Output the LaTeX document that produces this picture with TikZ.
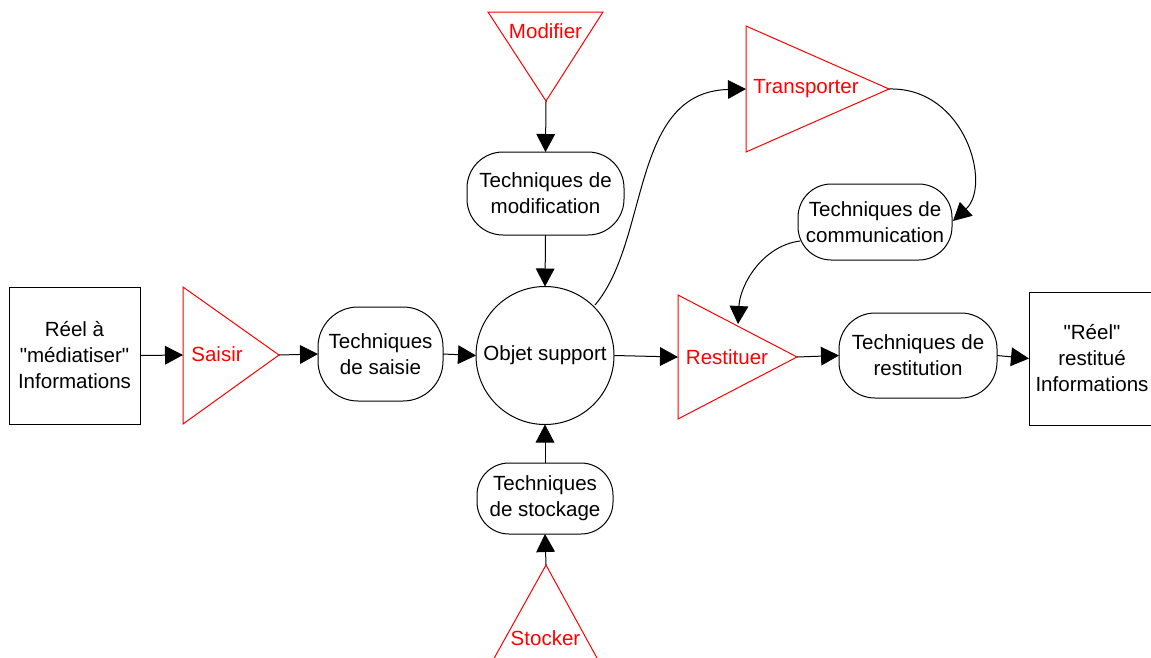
\documentclass[tikz,border=0pt]{standalone}
\usepackage{fontspec}
\newfontfamily\arialf{Liberation Sans}
\usetikzlibrary{arrows.meta}
\begin{document}
\begin{tikzpicture}[x=0.75pt,y=-0.75pt,
  every node/.style={font=\arialf\fontsize{15.4pt}{19.5pt}\selectfont, align=center, inner sep=0pt, outer sep=0pt},
  box/.style={draw, line width=0.75pt, rectangle},
  tech/.style={draw, line width=0.75pt, rounded corners=27pt},
  circ/.style={draw, circle, line width=0.75pt},
  tri/.style={draw=red, line width=0.75pt, line join=miter},
  lbl/.style={text=red},
  conn/.style={line width=0.75pt, -{Triangle[length=13.5pt,width=14pt]}}
]
\useasboundingbox (0,0) rectangle (1151,657);

% boxes
\node[box, minimum width=98.25pt, minimum height=102.75pt] (reel) at (74.5,355.5) {Réel à\\"médiatiser"\\Informations};
\node[box, minimum width=94.5pt, minimum height=99.75pt] (restitue) at (1092,358.5) {"Réel"\\restitué\\Informations};

% technique boxes
\node[tech, minimum width=93.75pt, minimum height=70.5pt, rounded corners=30pt] (saisie) at (380.5,354) {Techniques\\de saisie};
\node[tech, minimum width=117.75pt, minimum height=62.25pt] (modif) at (545.5,193.5) {Techniques de\\modification};
\node[tech, minimum width=102pt, minimum height=53.25pt, rounded corners=24pt] (stock) at (545,498.5) {Techniques\\de stockage};
\node[tech, minimum width=118.5pt, minimum height=63.75pt] (restit) at (918,355.5) {Techniques de\\restitution};
\node[tech, minimum width=115.5pt, minimum height=57pt, rounded corners=25pt] (comm) at (875,222) {Techniques de\\communication};

% central circle
\node[circ, minimum size=103.5pt] (obj) at (545,355.5) {Objet support};

% triangles (red)
\coordinate (saisirL) at (183,355);
\coordinate (saisirT) at (279,355);
\draw[tri] (183,287) -- (279,355) -- (183,424) -- cycle;
\node[lbl] (saisir) at (217,354) {Saisir};

\coordinate (restL) at (678,357);
\coordinate (restT) at (797,357);
\coordinate (restTop) at (738,324);
\draw[tri] (678,295) -- (797,357) -- (678,419) -- cycle;
\node[lbl] (restituer) at (727,357) {Restituer};

\coordinate (transL) at (746,89);
\coordinate (transT) at (889,89);
\draw[tri] (746,26) -- (889,89) -- (746,152) -- cycle;
\node[lbl] (transporter) at (806,89) {Transporter};

\coordinate (modB) at (546,101);
\draw[tri] (488,12) -- (603,12) -- (546,101) -- cycle;
\node[lbl] (modifier) at (545.5,31) {Modifier};

\coordinate (stockA) at (546,565);
\draw[tri] (482,680) -- (546,565) -- (609,680);
\node[lbl] (stocker) at (545.5,638) {Stocker};

% connectors
\coordinate (objNE) at (595,305);
\coordinate (commR) at (953,221);
\coordinate (commL) at (800,241);

\draw[conn] (reel.east) -- (saisirL);
\draw[conn] (saisirT) -- (saisie.west);
\draw[conn] (saisie.east) -- (obj.west);
\draw[conn] (obj.east) -- (restL);
\draw[conn] (restT) -- (restit.west);
\draw[conn] (restit.east) -- (restitue.west);
\draw[conn] (modB) -- (modif.north);
\draw[conn] (modif.south) -- (obj.north);
\draw[conn] (stock.north) -- (obj.south);
\draw[conn] (stockA) -- (stock.south);

\draw[conn] (objNE) .. controls (650,240) and (630,92) .. (transL);
\draw[conn] (transT) .. controls (965,87) and (992,185) .. (commR);
\draw[conn] (commL) .. controls (762,246) and (740,285) .. (restTop);
\end{tikzpicture}
\end{document}
